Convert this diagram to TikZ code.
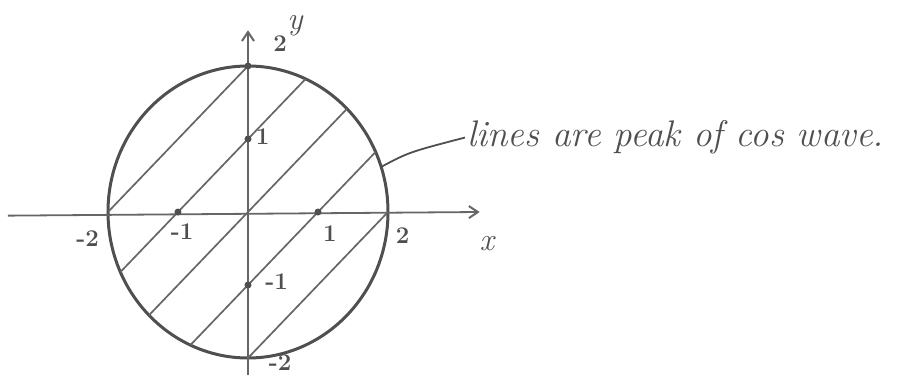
\documentclass[tikz,border=0pt]{standalone}
\usepackage{tikz}
\usetikzlibrary{positioning,arrows.meta}
\definecolor{cInk}{HTML}{4F4F4F}
\definecolor{cPen}{HTML}{666666}
\tikzset{
  ax/.style={draw=cPen, line width=1.8pt, -{Straight Barb[length=9pt, width=12pt, line width=2pt]}},
  rim/.style={draw=cInk, line width=3pt},
  hatch/.style={draw=cPen, line width=1.7pt},
  dot/.style={circle, fill=cInk, inner sep=0pt, minimum size=7pt},
  num/.style={text=cInk, font=\fontsize{24}{28}\selectfont\bfseries, inner sep=1pt},
  var/.style={text=cInk, font=\fontsize{32}{36}\selectfont\itshape, inner sep=1pt},
  note/.style={text=cInk, font=\fontsize{37}{42}\selectfont\itshape, inner sep=2pt},
  lead/.style={draw=cInk, line width=1.8pt},
}
\begin{document}
\begin{tikzpicture}[x=70pt, y=73pt]
    \useasboundingbox (-248pt,-163pt) rectangle (667pt,212pt);
    % --- disc and hatching ---
    \draw[rim] (0,0) circle (2);
    \foreach \c in {-2,...,2} {
      \pgfmathsetmacro\r{sqrt(8-\c*\c)}
      \draw[hatch] ({(-\c-\r)/2},{(\c-\r)/2}) -- ({(-\c+\r)/2},{(\c+\r)/2});
    }

    % --- axes ---
    \coordinate (xl) at (-3.43,-0.05);
    \coordinate (xr) at (3.31,0);
    \coordinate (yb) at (0,-2.23);
    \coordinate (yt) at (0,2.49);
    \draw[ax] (xl) -- (xr);
    \draw[ax] (yb) -- (yt);
    \node[var] (xlab) at (3.41,-0.43) {x};
    \node[var] (ylab) at (0.67,2.55) {y};

    % --- ticks ---
    \node[dot] (xm1) at (-1,0) {};
    \node[dot] (xp1) at (1,0)  {};
    \node[dot] (ym1) at (0,-1) {};
    \node[dot] (yp1) at (0,1)  {};
    \node[dot] (yp2) at (0,2)  {};
    \node[num] (lxm2) at (-2.29,-0.36) {-2};
    \node[num] (lxm1) at (-0.94,-0.27) {-1};
    \node[num] (lxp1) at (1.17,-0.30)  {1};
    \node[num] (lxp2) at (2.21,-0.32)  {2};
    \node[num] (lym2) at (0.46,-2.07)  {-2};
    \node[num] (lym1) at (0.41,-0.96)  {-1};
    \node[num] (lyp1) at (0.21,1.03)   {1};
    \node[num] (lyp2) at (0.46,2.31)   {2};

    % --- remark ---
    \node[note, anchor=west] (rem) at (3.10,1.02) {lines are peak of cos wave.};
    \coordinate (hook) at (18:2);
    \draw[lead] (hook) .. controls (2.3,0.82) .. (rem.west);
\end{tikzpicture}
\end{document}
